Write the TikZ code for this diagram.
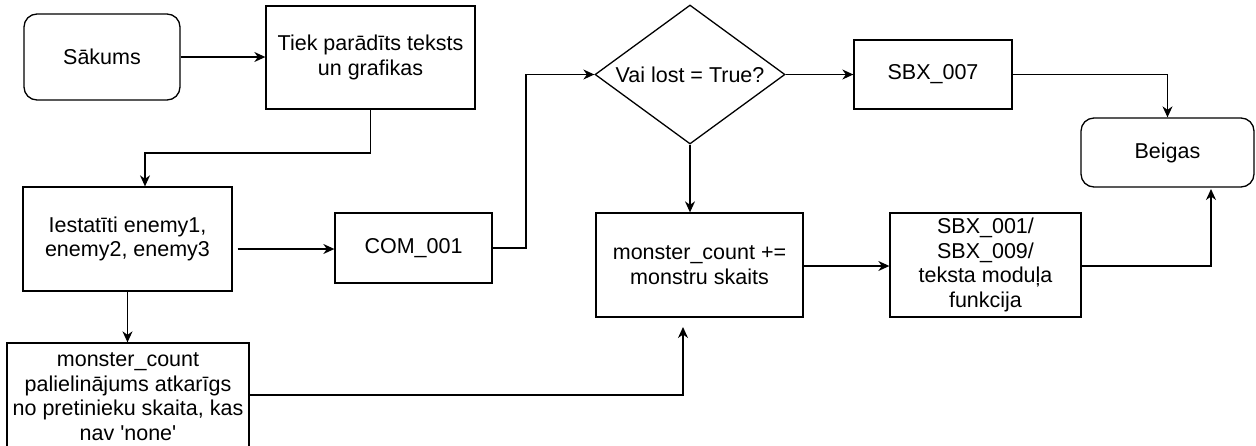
\documentclass[tikz,border=0pt]{standalone}
\usepackage{fontspec}
\setmainfont{Liberation Sans}[Ligatures=TeXOff]
\usetikzlibrary{shapes.geometric,arrows.meta,calc}

\begin{document}
\begin{tikzpicture}[x=1pt,y=-1pt,
  every node/.style={font=\fontsize{21.5}{24.6}\selectfont, align=center, inner sep=0pt},
  proc/.style={draw, line width=1.3pt, rectangle},
  term/.style={draw, line width=1.3pt, rectangle, rounded corners=13pt},
  decision/.style={draw, line width=1.3pt, diamond, shape aspect=1.367},
  flow/.style={line width=1.3pt, -{Stealth[length=11pt,width=10pt,inset=3.5pt]}},
]
% page frame
\fill[white] (0,0) rectangle (1256,445);
\useasboundingbox (0,0) rectangle (1256,445);

% nodes
\node[term, minimum width=156pt, minimum height=86pt] (start) at (102,57) {Sākums};
\node[proc, minimum width=209pt, minimum height=103pt] (show) at (370.5,57.5) {Tiek parādīts teksts\\un grafikas};
\node[proc, minimum width=209pt, minimum height=104pt] (enemies) at (127.5,239) {Iestatīti enemy1,\\enemy2, enemy3};
\node[proc, minimum width=157pt, minimum height=70pt] (com) at (413.5,248) {COM\_001};
\node[decision, minimum width=190pt, minimum height=139pt] (lost) at (690,74.5) {Vai lost = True?};
\node[proc, minimum width=158pt, minimum height=69pt] (sbxseven) at (933,74.5) {SBX\_007};
\node[term, minimum width=173pt, minimum height=69pt] (end) at (1167.5,152.5) {Beigas};
\node[proc, minimum width=207pt, minimum height=104pt] (count) at (699.5,265) {monster\_count +=\\monstru skaits};
\node[proc, minimum width=191pt, minimum height=104pt] (sbx) at (985.5,265) {SBX\_001/\\SBX\_009/\\teksta moduļa\\funkcija};
\node[proc, minimum width=242pt, minimum height=107pt] (incr) at (128,396.5) {monster\_count\\palielinājums atkarīgs\\no pretinieku skaita, kas\\nav 'none'};

% free ends of detached connectors
\coordinate (enemiesout) at ($(enemies.east)+(5,10)$);
\coordinate (incrup) at (683,327);
\coordinate (endin) at (1211,189);

% connectors
\draw[flow] (start.east) -- (show.west |- start.east);
\draw[flow] (show.south) |- (145,153) -- (145,0 |- enemies.north);
\draw[flow] (enemiesout) -- (com.west |- enemiesout);
\draw[flow] (com.east) -| (526,74.5) -- (lost.west);
\draw[flow] (lost.east) -- (sbxseven.west);
\draw[flow] (sbxseven.east) -| (end.north);
\draw[flow] (lost.south) -- (lost.south |- count.north);
\draw[flow] (enemies.south) -- (enemies.south |- incr.north);
\draw[flow] (incr.east |- 0,395) -| (incrup);
\draw[flow] (count.east |- 0,266) -- (sbx.west |- 0,266);
\draw[flow] (sbx.east |- 0,266) -| (endin);
\end{tikzpicture}
\end{document}
